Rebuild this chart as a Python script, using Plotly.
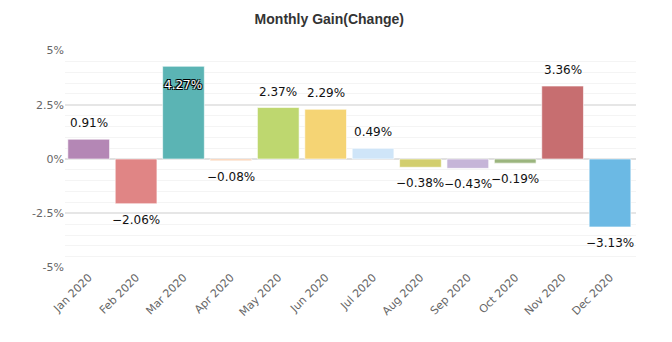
import plotly.graph_objects as go

months = ["Jan 2020", "Feb 2020", "Mar 2020", "Apr 2020", "May 2020", "Jun 2020",
          "Jul 2020", "Aug 2020", "Sep 2020", "Oct 2020", "Nov 2020", "Dec 2020"]
gains = [0.91, -2.06, 4.27, -0.08, 2.37, 2.29, 0.49, -0.38, -0.43, -0.19, 3.36, -3.13]
bar_colors = ["#B487B5", "#E08585", "#5BB4B4", "#F9C9A7", "#BED76F", "#F5D474",
              "#CFE5F8", "#D2CE6D", "#C6B5D8", "#9BB57E", "#C76E70", "#6BB9E4"]
y_ticks = [-5, -2.5, 0, 2.5, 5]
y_tick_text = ["-5%", "-2.5%", "0%", "2.5%", "5%"]

fig = go.Figure(go.Bar(
    x=months, y=gains,
    marker=dict(color=bar_colors, line=dict(color="rgba(255,255,255,0.6)", width=1)),
    hoverinfo="x+y",
))

label_font = dict(family="DejaVu Sans", size=12, color="#111")
for m, v in zip(months, gains):
    txt = f"{v:.2f}%".replace("-", "\u2212")
    if v == max(gains):
        fig.add_annotation(x=m, y=v, text=txt, showarrow=False, yanchor="top", yshift=-10,
                           font=dict(family="DejaVu Sans", size=12, color="white",
                                     shadow="-1px -1px 0 #000, 1px -1px 0 #000, -1px 1px 0 #000, 1px 1px 0 #000"))
    elif v >= 0:
        fig.add_annotation(x=m, y=v, text=txt, showarrow=False, yanchor="bottom", yshift=7,
                           font=label_font)
    else:
        fig.add_annotation(x=m, y=v, text=txt, showarrow=False, yanchor="top", yshift=-7,
                           font=label_font)

fig.update_layout(
    width=672, height=342,
    margin=dict(l=65, r=36, t=50, b=74),
    paper_bgcolor="white", plot_bgcolor="white",
    title=dict(text="<b>Monthly Gain(Change)</b>", x=0.49, xanchor="center", y=0.945, yanchor="middle",
               font=dict(family="Liberation Sans", size=14, color="#333")),
    bargap=0.12,
    showlegend=False,
    xaxis=dict(tickangle=-45, tickfont=dict(family="DejaVu Sans", size=11, color="#666"),
               showgrid=False, showline=False, ticks=""),
    yaxis=dict(range=[-5.02, 5.02], tickvals=y_ticks, ticktext=y_tick_text,
               tickfont=dict(family="DejaVu Sans", size=11, color="#666"),
               gridcolor="#e6e6e6", gridwidth=1.5,
               zeroline=True, zerolinecolor="#e0e0e0", zerolinewidth=1.5,
               minor=dict(dtick=0.5, tick0=0, showgrid=True, gridcolor="#f4f4f4", gridwidth=1),
               ticks="", showline=False),
)

fig.write_html("out.html")
